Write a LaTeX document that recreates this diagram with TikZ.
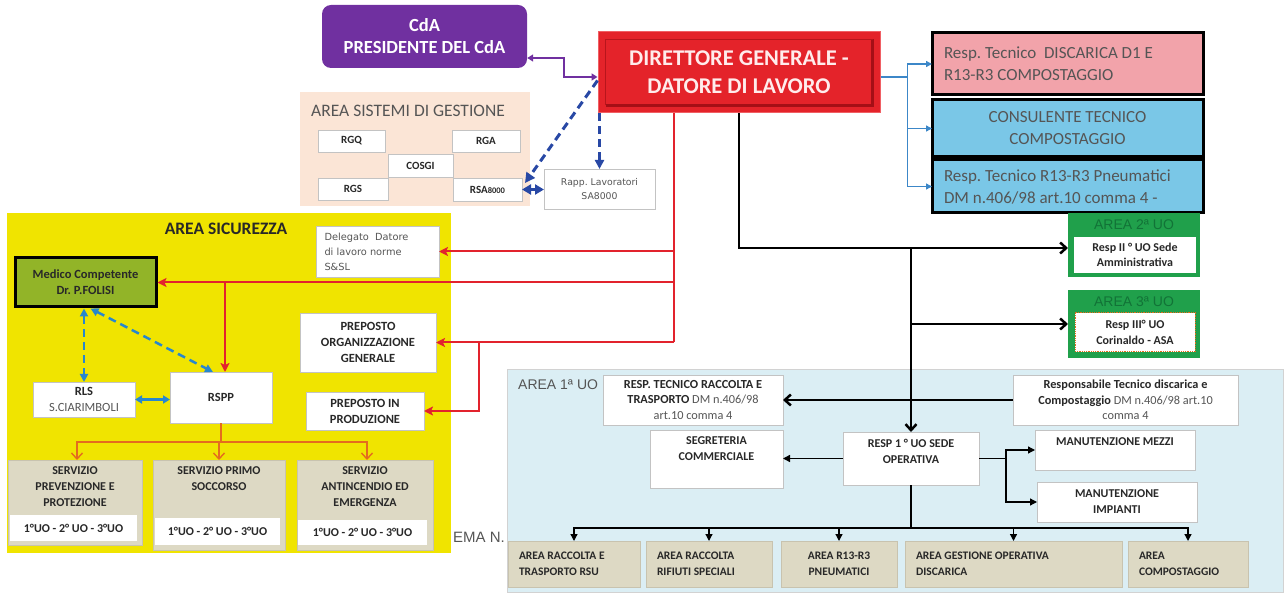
\documentclass[tikz,border=0pt]{standalone}
\usepackage{fontspec}
\setmainfont{Carlito}
\newfontfamily\arialf{Liberation Sans}
\newfontfamily\dvs{DejaVu Sans}
\usetikzlibrary{arrows.meta}
\newcommand\fsz[2]{\fontsize{#1}{#2}\selectfont}
\definecolor{purp}{RGB}{112,48,160}
\definecolor{dirred}{RGB}{228,35,42}
\definecolor{dirdark}{RGB}{165,15,22}
\definecolor{dirlight}{RGB}{240,95,100}
\definecolor{dirtxt}{RGB}{255,236,236}
\definecolor{peach}{RGB}{251,229,214}
\definecolor{ylw}{RGB}{240,228,0}
\definecolor{medg}{RGB}{146,180,40}
\definecolor{tanc}{RGB}{221,217,196}
\definecolor{tanline}{RGB}{200,195,175}
\definecolor{aonebg}{RGB}{219,238,244}
\definecolor{pinkc}{RGB}{242,163,170}
\definecolor{lbluec}{RGB}{122,199,231}
\definecolor{grn}{RGB}{32,160,75}
\definecolor{grndark}{RGB}{18,115,55}
\definecolor{bdark}{RGB}{40,72,165}
\definecolor{bmid}{RGB}{40,135,205}
\definecolor{bthin}{RGB}{60,135,200}
\definecolor{redc}{RGB}{226,35,45}
\definecolor{orng}{RGB}{228,108,30}
\definecolor{txtd}{RGB}{40,40,40}
\definecolor{txtg}{RGB}{85,85,85}
\definecolor{boxgray}{RGB}{195,195,195}
\tikzset{
  wbox/.style={draw=boxgray, line width=0.8pt, fill=white, inner sep=2pt, outer sep=0pt, align=center, text=txtd},
  sgbox/.style={wbox, font=\bfseries\fsz{11}{13}},
  rbox/.style={draw=black, line width=3pt, minimum width=271pt, inner xsep=11pt, text width=247pt, text=txtg, outer sep=0pt, font=\fsz{17}{22}},
  tanbox/.style={draw=tanline, line width=0.8pt, fill=tanc, inner sep=0pt, outer sep=0pt},
  ttxt/.style={inner sep=0pt, align=center, text=txtd, font=\bfseries\fsz{12}{16}},
  bgbox/.style={inner sep=0pt, outer sep=0pt},
  btank/.style={tanbox, minimum height=46pt, text width=#1, inner xsep=11pt, align=flush left, text=txtd, font=\bfseries\fsz{11.5}{16}},
  blkthick/.style={line width=2.5pt, black},
  blkthin/.style={line width=1.3pt, black},
  redline/.style={line width=2pt, redc},
  orline/.style={line width=1.4pt, orng},
  bdash/.style={line width=3pt, bdark, dash pattern=on 8pt off 5pt},
  bmdash/.style={line width=2.5pt, bmid, dash pattern=on 8pt off 5pt},
  tri/.style={-{Triangle[length=#1,width=#1]}},
  redtip/.style={-{Stealth[length=9pt,width=9pt,inset=2pt]}},
  barb/.style={-{Straight Barb[length=6pt,width=11pt]}},
}
\begin{document}
\frenchspacing
\begin{tikzpicture}[x=1pt,y=-1pt]
\useasboundingbox (0,0) rectangle (1285,593);

% ---------- backgrounds ----------
\node[bgbox, fill=peach, minimum width=230pt, minimum height=114pt] (sgbg) at (415,149) {};
\node[inner sep=0pt, anchor=west, text=txtg, font=\fsz{17.5}{19}] (sgtitle) at (311,111) {AREA SISTEMI DI GESTIONE};

\node[bgbox, fill=ylw, minimum width=444pt, minimum height=340pt] (sicbg) at (229,383) {};
\node[inner sep=0pt, text=txtd, font=\bfseries\fsz{17.5}{19}] (sictitle) at (226,229) {AREA SICUREZZA};

\node[inner sep=0pt, anchor=west, text=txtg, font=\arialf\fsz{15}{17}] (ema) at (453,537) {EMA N.};

\node[bgbox, fill=aonebg, draw=gray!35, line width=0.8pt, minimum width=776pt, minimum height=223pt] (aonebg) at (895,480.5) {};
\node[inner sep=0pt, anchor=west, text=txtg, font=\arialf\fsz{14}{16}] (aonetitle) at (518,385) {AREA 1ª UO};

% ---------- top ----------
\node[fill=purp, rounded corners=9pt, minimum width=205pt, minimum height=63pt, text=white, align=center, font=\bfseries\fsz{18.5}{22}] (cda) at (424.5,36.5) {CdA\\PRESIDENTE DEL CdA};

\node[fill=dirred, draw=dirlight, line width=1pt, minimum width=282pt, minimum height=81pt, text=dirtxt, align=center, font=\bfseries\fsz{22.5}{28}] (dir) at (739,72.5) {DIRETTORE GENERALE -\\DATORE DI LAVORO};
\draw[dirdark, line width=2.5pt] ([xshift=8pt,yshift=8pt]dir.south west) -- ([xshift=-8pt,yshift=8pt]dir.south east) -- ([xshift=-8pt,yshift=-8pt]dir.north east);
\draw[dirdark!70!dirred, line width=1pt] ([xshift=8pt,yshift=8pt]dir.south west) -- ([xshift=8pt,yshift=-8pt]dir.north west) -- ([xshift=-8pt,yshift=-8pt]dir.north east);

\node[sgbox, minimum width=67pt, minimum height=22pt] (rgq) at (351.5,141) {RGQ};
\node[sgbox, minimum width=68pt, minimum height=22pt] (rga) at (486,141) {RGA};
\node[sgbox, minimum width=65pt, minimum height=23pt] (cosgi) at (420.5,165.5) {COSGI};
\node[sgbox, minimum width=70pt, minimum height=22pt] (rgs) at (353,189) {RGS};
\node[sgbox, minimum width=69pt, minimum height=23pt] (rsa) at (487.5,189.5) {RSA{\fsz{8.5}{10}8000}};
\node[wbox, minimum width=111pt, minimum height=40pt, text=txtg, font=\dvs\fsz{9.3}{14}] (rapp) at (599.5,189) {Rapp. Lavoratori\\SA8000};

\node[rbox, fill=pinkc, minimum height=62pt, align=flush left] (rone) at (1067.5,64) {Resp. Tecnico\ \ DISCARICA D1 E\\R13-R3 COMPOSTAGGIO};
\node[rbox, fill=lbluec, minimum height=57pt, align=flush center] (rtwo) at (1067.5,128.5) {CONSULENTE TECNICO\\COMPOSTAGGIO};
\node[rbox, fill=lbluec, minimum height=53pt, align=flush left] (rthree) at (1067.5,186.5) {Resp. Tecnico R13-R3 Pneumatici\\DM n.406/98 art.10 comma 4 -};

\node[bgbox, fill=grn, minimum width=132pt, minimum height=64pt] (atwo) at (1134,245) {};
\node[inner sep=0pt, text=grndark, font=\arialf\fsz{14}{16}] (atwot) at (1134,225) {AREA 2ª UO};
\node[wbox, draw=none, minimum width=122pt, minimum height=36pt, font=\bfseries\fsz{12}{15}] (atwoi) at (1135,255) {Resp II ° UO Sede\\Amministrativa};

\node[bgbox, fill=grn, minimum width=132pt, minimum height=68pt] (athree) at (1134,324) {};
\node[inner sep=0pt, text=grndark, font=\arialf\fsz{14}{16}] (athreet) at (1134,302) {AREA 3ª UO};
\node[wbox, draw=orng, densely dotted, line width=1pt, minimum width=120pt, minimum height=39pt, font=\bfseries\fsz{12}{16}] (athreei) at (1135,332.5) {Resp III° UO\\Corinaldo - ASA};

% ---------- area sicurezza ----------
\node[wbox, minimum width=123pt, minimum height=51pt, text width=106pt, inner xsep=8pt, align=flush left, text=txtg, font=\dvs\fsz{9.8}{15}] (deleg) at (377.5,251.5) {Delegato\ \ Datore\\di lavoro norme\\S\&SL};
\node[draw=black, line width=3pt, fill=medg, minimum width=141pt, minimum height=49pt, align=center, text=txtd, font=\bfseries\fsz{12.5}{16}] (medico) at (85.5,282.5) {Medico Competente\\Dr. P.FOLISI};
\node[wbox, minimum width=136pt, minimum height=59pt, font=\bfseries\fsz{12.5}{16}] (pporg) at (368,342.5) {PREPOSTO\\ORGANIZZAZIONE\\GENERALE};
\node[wbox, minimum width=118pt, minimum height=38pt, font=\bfseries\fsz{12.5}{16}] (pprod) at (365,411) {PREPOSTO IN\\PRODUZIONE};
\node[wbox, minimum width=102pt, minimum height=35pt, font=\fsz{12.5}{16}] (rls) at (84,399.5) {\textbf{RLS}\\\textcolor{txtg}{S.CIARIMBOLI}};
\node[wbox, minimum width=102pt, minimum height=51pt, font=\bfseries\fsz{12.5}{16}] (rspp) at (221,397.5) {RSPP};

\node[tanbox, minimum width=134pt, minimum height=85pt] (sone) at (75,502.5) {};
\node[ttxt, anchor=north] (sonet) at ([yshift=-6pt]sone.north) {SERVIZIO\\PREVENZIONE E\\PROTEZIONE};
\node[wbox, draw=none, minimum width=127pt, minimum height=26pt, font=\bfseries\fsz{12}{14}] (soneu) at (73.5,528) {1°UO - 2° UO - 3°UO};

\node[tanbox, minimum width=132pt, minimum height=90pt] (stwo) at (219,505) {};
\node[ttxt, anchor=north] (stwot) at ([yshift=-6pt]stwo.north) {SERVIZIO PRIMO\\SOCCORSO};
\node[wbox, draw=none, minimum width=125pt, minimum height=27pt, font=\bfseries\fsz{12}{14}] (stwou) at (217.5,531.5) {1°UO - 2° UO - 3°UO};

\node[tanbox, minimum width=136pt, minimum height=90pt] (sthree) at (365,505) {};
\node[ttxt, anchor=north] (sthreet) at ([yshift=-6pt]sthree.north) {SERVIZIO\\ANTINCENDIO ED\\EMERGENZA};
\node[wbox, draw=none, minimum width=129pt, minimum height=25pt, font=\bfseries\fsz{12}{14}] (sthreeu) at (362.5,532.5) {1°UO - 2° UO - 3°UO};

% ---------- area 1 ----------
\node[wbox, minimum width=180pt, minimum height=50pt, font=\fsz{12.3}{15.5}] (rtr) at (693,400) {\textbf{RESP. TECNICO RACCOLTA E}\\\textbf{TRASPORTO} \textcolor{txtg}{DM n.406/98}\\\textcolor{txtg}{art.10 comma 4}};
\node[wbox, minimum width=225pt, minimum height=50pt, font=\fsz{12.3}{15.5}] (rtd) at (1125.5,400) {\textbf{Responsabile Tecnico discarica e}\\\textbf{Compostaggio} \textcolor{txtg}{DM n.406/98 art.10}\\\textcolor{txtg}{comma 4}};

\node[wbox, minimum width=133pt, minimum height=58pt] (seg) at (716.5,459) {};
\node[ttxt, anchor=north] (segt) at ([yshift=-6pt]seg.north) {SEGRETERIA\\COMMERCIALE};
\node[wbox, minimum width=136pt, minimum height=53pt] (respone) at (911,458.5) {};
\node[ttxt, anchor=north] (responet) at ([yshift=-7pt]respone.north) {RESP 1 ° UO SEDE\\OPERATIVA};
\node[wbox, minimum width=160pt, minimum height=40pt] (mm) at (1115,450) {};
\node[ttxt, anchor=north] (mmt) at ([yshift=-7pt]mm.north) {MANUTENZIONE MEZZI};
\node[wbox, minimum width=160pt, minimum height=40pt, font=\bfseries\fsz{12}{16}] (mi) at (1117,502) {MANUTENZIONE\\IMPIANTI};

\node[btank=110pt] (bone) at (574,564) {AREA RACCOLTA E\\TRASPORTO RSU};
\node[btank=104pt] (btwo) at (709,564) {AREA RACCOLTA\\RIFIUTI SPECIALI};
\node[tanbox, minimum width=116pt, minimum height=46pt, align=center, text=txtd, font=\bfseries\fsz{11.5}{16}] (bthree) at (839,564) {AREA R13-R3\\PNEUMATICI};
\node[btank=195pt] (bfour) at (1013.5,564) {AREA GESTIONE OPERATIVA\\DISCARICA};
\node[btank=98pt] (bfive) at (1188,564) {AREA\\COMPOSTAGGIO};

% ---------- connectors ----------
\draw[purp, line width=2pt, {Triangle[length=6pt,width=7pt]}-{Triangle[length=6pt,width=7pt]}] ([yshift=-21.5pt]cda.east) -- ++(37,0) |- ([yshift=-4.5pt]dir.west);

\draw[bdash, tri=10pt] ([yshift=-8pt]dir.west) -- ([xshift=3pt,yshift=-5pt]rsa.north east);
\draw[bdash, tri=9pt] (rapp.north |- dir.south) -- (rapp.north);
\draw[bdash, {Triangle[length=9pt,width=10pt]}-{Triangle[length=9pt,width=10pt]}] (rsa.east) -- (rapp.west |- rsa.east);

\draw[bthin, line width=1.4pt] ([yshift=-4.5pt]dir.east) -- ++(27,0) coordinate (bj);
\draw[bthin, line width=1.4pt, tri=6pt] (bj) |- (rone.west);
\draw[bthin, line width=1.4pt, tri=6pt] (bj) |- (rtwo.west);
\draw[bthin, line width=1.4pt, tri=6pt] (bj) |- (rthree.west);

\coordinate (atwoin) at ([yshift=-3pt]atwo.west);
\draw[blkthick, barb] (dir.south) |- (atwoin);
\draw[blkthick, barb] (respone.north |- atwoin) -- (respone.north);
\draw[blkthick, barb] (respone.north |- athree.west) -- (athree.west);
\draw[blkthick, -{Straight Barb[length=6pt,width=11pt]}, {Straight Barb[length=6pt,width=11pt]}-] (rtr.east) -- (rtd.west);

\draw[blkthin, tri=7pt] (respone.west) -- (seg.east |- respone.west);
\draw[blkthin] (respone.east) -- ++(27,0) coordinate (mj);
\draw[blkthin, tri=7pt] (mj) |- (mm.west);
\draw[blkthin, tri=7pt] (mj) |- (mi.west);
\draw[blkthin] (respone.south) -- ++(0,43) coordinate (bjn);
\draw[blkthin, tri=7pt] (bjn) -| (bone.north);
\draw[blkthin, tri=7pt] (bjn) -| (btwo.north);
\draw[blkthin, tri=7pt] (bjn) -| (bthree.north);
\draw[blkthin, tri=7pt] (bjn) -| (bfour.north);
\draw[blkthin, tri=7pt] (bjn) -| (bfive.north);

\coordinate (rtop) at ([xshift=-65pt]dir.south);
\draw[redline] (rtop) -- (rtop |- pporg.east);
\draw[redline, redtip] (rtop |- deleg.east) -- (deleg.east);
\draw[redline, redtip] (rtop |- medico.east) -- (medico.east);
\draw[redline, redtip] (rtop |- pporg.east) -- (pporg.east);
\draw[redline, redtip] ([xshift=43pt]pporg.east) |- (pprod.east);
\draw[redline, redtip] ([xshift=4pt]rspp.north |- medico.east) -- ([xshift=4pt]rspp.north);

\draw[bmdash, {Triangle[length=8pt,width=8pt]}-{Triangle[length=8pt,width=8pt]}] (medico.south -| rls.north) -- (rls.north);
\draw[bmdash, {Triangle[length=8pt,width=8pt]}-{Triangle[length=8pt,width=8pt]}] ([xshift=5pt]medico.south) -- ([xshift=-8pt]rspp.north);
\draw[bmid, line width=2.5pt, {Triangle[length=7pt,width=8pt]}-{Triangle[length=7pt,width=8pt]}] (rls.east) -- (rspp.west |- rls.east);

\draw[orline] (rspp.south) -- ++(0,19) coordinate (oj);
\draw[orline, barb] (oj) -| ([xshift=2pt]sone.north);
\draw[orline, barb] (oj) -| (stwo.north);
\draw[orline, barb] (oj) -| ([xshift=2pt]sthree.north);
\end{tikzpicture}
\end{document}
